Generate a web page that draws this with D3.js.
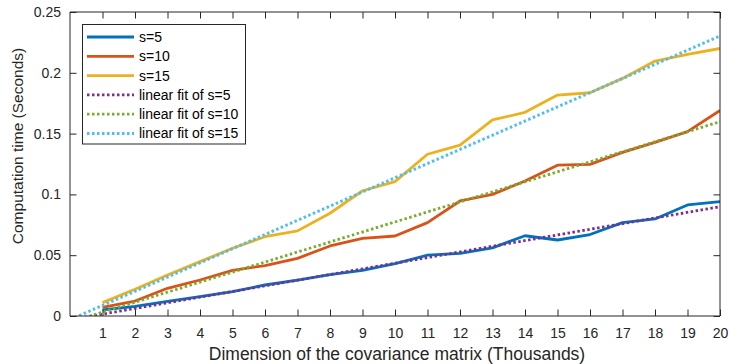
<!DOCTYPE html>
<html>
<head>
<meta charset="utf-8">
<script src="https://cdn.jsdelivr.net/npm/d3@7"></script>
<style>
  html, body { margin: 0; padding: 0; background: #fff; }
  svg { display: block; font-family: "Liberation Sans", Arial, Helvetica, sans-serif; }
</style>
</head>
<body>
<svg id="chart" width="730" height="364"></svg>
<script>
// ---- data ----
const dims = [1, 2, 3, 4, 5, 6, 7, 8, 9, 10, 11, 12, 13, 14, 15, 16, 17, 18, 19, 20];
const s5  = [0.005, 0.008, 0.012, 0.016, 0.020, 0.0255, 0.0295, 0.034, 0.0375, 0.043,
             0.050, 0.0515, 0.056, 0.066, 0.0625, 0.067, 0.0768, 0.0798, 0.0913, 0.094];
const s10 = [0.007, 0.0123, 0.0228, 0.0296, 0.0375, 0.0415, 0.0474, 0.0576, 0.0639, 0.0658,
             0.0768, 0.0946, 0.100, 0.111, 0.124, 0.1247, 0.1346, 0.1428, 0.1516, 0.169];
const s15 = [0.011, 0.022, 0.0337, 0.0447, 0.0557, 0.0652, 0.070, 0.0845, 0.103, 0.1105,
             0.133, 0.1406, 0.1612, 0.1675, 0.1817, 0.1836, 0.1954, 0.2097, 0.2152, 0.220];
// linear fits: value at the two ends of the fitted range
const fitX   = [0, 20];
const fit5   = [-0.0031, 0.0899];
const fit10  = [-0.0051, 0.1598];
const fit15  = [-0.0030, 0.2303];
const xTicks = [1, 2, 3, 4, 5, 6, 7, 8, 9, 10, 11, 12, 13, 14, 15, 16, 17, 18, 19, 20];
const yTicks = [0, 0.05, 0.1, 0.15, 0.2, 0.25];
const yTickLabels = ["0", "0.05", "0.1", "0.15", "0.2", "0.25"];
const seriesNames = ["s=5", "s=10", "s=15", "linear fit of s=5", "linear fit of s=10", "linear fit of s=15"];
const xTitle = "Dimension of the covariance matrix (Thousands)";
const yTitle = "Computation time (Seconds)";

// ---- layout ----
const L = 70, R = 720, T = 12, B = 316;
const axisColor = "#262626";
const svg = d3.select("#chart");
const x = d3.scaleLinear().domain([0, 20]).range([L, R]);
const y = d3.scaleLinear().domain([0, 0.25]).range([B, T]);

svg.append("defs").append("clipPath").attr("id", "clip")
  .append("rect").attr("x", L).attr("y", T).attr("width", R - L).attr("height", B - T);

const series = [
  { name: seriesNames[0], xs: dims, ys: s5,  color: "#0072BD", dash: null },
  { name: seriesNames[1], xs: dims, ys: s10, color: "#D95319", dash: null },
  { name: seriesNames[2], xs: dims, ys: s15, color: "#EDB120", dash: null },
  { name: seriesNames[3], xs: fitX, ys: fit5,  color: "#7E2F8E", dash: "2.5,2.5" },
  { name: seriesNames[4], xs: fitX, ys: fit10, color: "#77AC30", dash: "2.5,2.5" },
  { name: seriesNames[5], xs: fitX, ys: fit15, color: "#4DBEEE", dash: "2.5,2.5" }
];

const line = d3.line().x(d => x(d[0])).y(d => y(d[1]));
const plot = svg.append("g").attr("clip-path", "url(#clip)");
series.forEach(s => {
  plot.append("path")
    .datum(s.xs.map((v, i) => [v, s.ys[i]]))
    .attr("d", line)
    .attr("fill", "none")
    .attr("stroke", s.color)
    .attr("stroke-width", 2.8)
    .attr("stroke-dasharray", s.dash)
    .attr("stroke-linejoin", "round");
});

// ---- axes (box with inward ticks) ----
const tickLen = 6.5;
const fs = 14;
const xAxisB = d3.axisBottom(x).tickValues(xTicks).tickSize(-tickLen).tickPadding(12).tickFormat(d3.format("d"));
const xAxisT = d3.axisTop(x).tickValues(xTicks).tickSize(-tickLen).tickFormat("");
const yAxisL = d3.axisLeft(y).tickValues(yTicks).tickSize(-tickLen).tickPadding(9).tickFormat((d, i) => yTickLabels[i]);
const yAxisR = d3.axisRight(y).tickValues(yTicks).tickSize(-tickLen).tickFormat("");

function style(g) {
  g.select(".domain").attr("stroke", axisColor);
  g.selectAll(".tick line").attr("stroke", axisColor);
  g.selectAll(".tick text").attr("fill", axisColor).attr("font-size", fs)
    .attr("font-family", "Liberation Sans, Arial, sans-serif");
}
svg.append("g").attr("transform", `translate(0,${B})`).call(xAxisB).call(style)
  .call(g => g.select(".domain").attr("d", `M${L},0H${R}`));
svg.append("g").attr("transform", `translate(0,${T})`).call(xAxisT).call(style)
  .call(g => g.select(".domain").attr("d", `M${L},0H${R}`));
svg.append("g").attr("transform", `translate(${L},0)`).call(yAxisL).call(style)
  .call(g => g.select(".domain").attr("d", `M0,${T}V${B}`));
svg.append("g").attr("transform", `translate(${R},0)`).call(yAxisR).call(style)
  .call(g => g.select(".domain").attr("d", `M0,${T}V${B}`));

// ---- axis titles ----
svg.append("text")
  .attr("x", (L + R) / 2 + 2).attr("y", 360)
  .attr("text-anchor", "middle").attr("font-size", 17.5).attr("fill", axisColor)
  .text(xTitle);
svg.append("text")
  .attr("transform", `translate(23,146) rotate(-90)`)
  .attr("text-anchor", "middle").attr("font-size", 15.5).attr("fill", axisColor)
  .text(yTitle);

// ---- legend ----
const lg = svg.append("g");
lg.append("rect").attr("x", 82.5).attr("y", 24.5).attr("width", 163).attr("height", 119.5)
  .attr("fill", "#fff").attr("stroke", axisColor).attr("stroke-width", 1);
const rowY = d3.scaleLinear().domain([0, 5]).range([37, 133.5]);
series.forEach((s, i) => {
  const yy = rowY(i);
  lg.append("line").attr("x1", 87).attr("x2", 134).attr("y1", yy).attr("y2", yy)
    .attr("stroke", s.color).attr("stroke-width", 2.8).attr("stroke-dasharray", s.dash);
  lg.append("text").attr("x", 139).attr("y", yy).attr("dy", "0.35em")
    .attr("font-size", 14).attr("fill", "#000").text(s.name);
});
</script>
</body>
</html>
